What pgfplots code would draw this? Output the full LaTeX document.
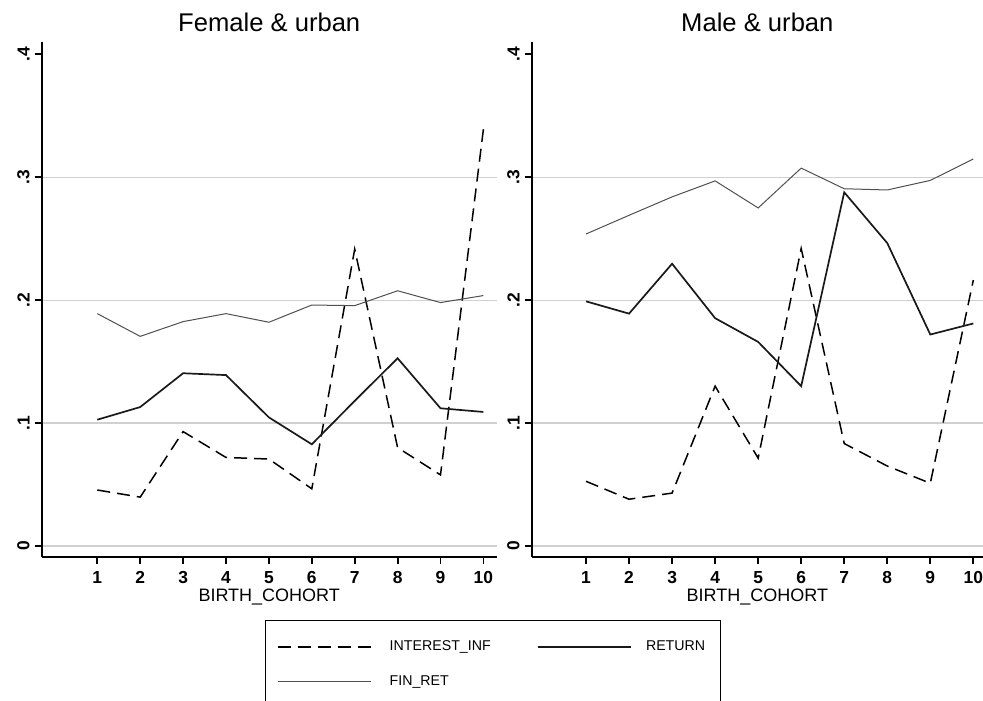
\documentclass[border=0pt]{standalone}
\usepackage{pgfplots}
\pgfplotsset{compat=1.18}
\usepackage{fontspec}
\setmainfont{Liberation Sans}
\definecolor{gridc}{RGB}{208,208,208}
\definecolor{fincol}{RGB}{80,80,80}
\definecolor{retcol}{RGB}{25,25,25}

\pgfplotstableread{
x inf ret fin
1 0.0455 0.1027 0.1890
2 0.0397 0.1130 0.1705
3 0.0930 0.1405 0.1825
4 0.0720 0.1390 0.1890
5 0.0707 0.1046 0.1820
6 0.0465 0.0827 0.1960
7 0.2415 0.1180 0.1955
8 0.0800 0.1527 0.2076
9 0.0578 0.1120 0.1980
10 0.3390 0.1090 0.2037
}\female

\pgfplotstableread{
x inf ret fin
1 0.0526 0.1990 0.2538
2 0.0380 0.1890 0.2690
3 0.0430 0.2296 0.2840
4 0.1300 0.1853 0.2970
5 0.0714 0.1660 0.2750
6 0.2420 0.1300 0.3074
7 0.0833 0.2877 0.2906
8 0.0650 0.2464 0.2896
9 0.0510 0.1720 0.2974
10 0.2163 0.1810 0.3148
}\male

\pgfplotsset{
 panel/.style={
  scale only axis, anchor=south west,
  height=257.5pt, ymin=-0.009, ymax=0.41,
  axis x line*=bottom, axis y line*=left,
  axis line style={-, line width=1pt, black},
  tick align=outside, major tick length=3.5pt,
  tick style={line width=0.9pt, black},
  xtick={1,...,10},
  xticklabels={1,2,3,4,5,6,7,8,9,10},
  ytick={0,0.1,0.2,0.3}, yticklabels={0,.1,.2,.3},
  extra y ticks={0.4}, extra y tick labels={.4},
  extra y tick style={grid=none},
  ymajorgrids, major grid style={gridc, line width=0.6pt},
  /pgf/number format/assume math mode=true,
  ticklabel style={font=\bfseries\fontsize{8.7}{10}\selectfont},
  yticklabel style={rotate=90, anchor=south},
  yticklabel shift=-1pt,
  xlabel={BIRTH\_COHORT},
  xlabel style={at={(axis description cs:0.5,0)}, anchor=center, yshift=-20pt, font=\fontsize{9}{10}\selectfont},
  title style={at={(axis description cs:0.5,1)}, anchor=center, yshift=4pt, font=\fontsize{12.8}{14}\selectfont},
 },
 inf/.style={black, line width=0.75pt, dash pattern=on 6.5pt off 3.5pt},
 ret/.style={retcol, line width=0.85pt},
 fin/.style={fincol, line width=0.5pt},
}

\begin{document}
\begin{tikzpicture}
\path[use as bounding box] (0,0) rectangle (491.5pt,350pt);
\begin{axis}[panel,
  at={(20.85pt,71.5pt)}, width=227.5pt, xmin=-0.296, xmax=10.31,
  title={Female \& urban},
  legend columns=2,
  legend cell align=left,
  legend image code/.code={\draw[#1] (0pt,0pt) -- (46.5pt,0pt);},
  legend style={at={(0.4908,-0.1223)}, anchor=north west, draw=black, line width=0.5pt,
    inner xsep=5.85pt, inner ysep=8pt, font=\fontsize{7.1}{8}\selectfont,
    column sep=7pt, /tikz/every even column/.append style={column sep=21pt},
    /tikz/column 3/.append style={column sep=5.3pt},
    row sep=7pt},
]
\addplot[inf] table[x=x,y=inf]{\female};
\addlegendentry{INTEREST\_INF}
\addplot[ret] table[x=x,y=ret]{\female};
\addlegendentry{RETURN}
\addplot[fin] table[x=x,y=fin]{\female};
\addlegendentry{FIN\_RET}
\end{axis}
\begin{axis}[panel,
  at={(265.85pt,71.5pt)}, width=225.65pt, xmin=-0.262, xmax=10.225,
  title={Male \& urban},
]
\addplot[inf] table[x=x,y=inf]{\male};
\addplot[ret] table[x=x,y=ret]{\male};
\addplot[fin] table[x=x,y=fin]{\male};
\end{axis}
\end{tikzpicture}
\end{document}
